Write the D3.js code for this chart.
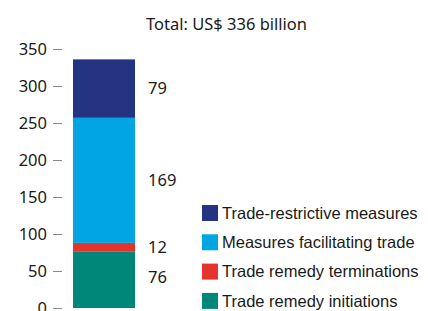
<!DOCTYPE html>
<html>
<head>
<meta charset="utf-8">
<script src="https://cdn.jsdelivr.net/npm/d3@7"></script>
<style>
  body { margin: 0; background: #fff; }
  text { font-family: "Noto Sans", "Open Sans", sans-serif; fill: #1a1a1a; }
  .legend text { font-family: "Liberation Sans", Arial, sans-serif; }
</style>
</head>
<body>
<svg id="chart"></svg>
<script>
// stacking order, bottom to top
const series = ["Trade remedy initiations", "Trade remedy terminations", "Measures facilitating trade", "Trade-restrictive measures"];
const values = [76, 12, 169, 79];
const colors = ["#00877a", "#e4342b", "#00a5e2", "#253482"];
const yTicks = [0, 50, 100, 150, 200, 250, 300, 350];
const title = "Total: US$ 336 billion";

const width = 428, height = 311;

const svg = d3.select("#chart")
    .attr("width", width)
    .attr("height", height);

const y = d3.scaleLinear()
    .domain([0, 350])
    .range([308, 49]);

const x = d3.scaleBand()
    .domain(["total"])
    .range([73, 135])
    .padding(0);

// cumulative stacking
let acc = 0;
const stacked = values.map((v, i) => {
    const d = { key: series[i], value: v, y0: acc, y1: acc + v, color: colors[i] };
    acc += v;
    return d;
});

// axis: short grey ticks, no domain line
const axis = svg.append("g")
    .attr("transform", "translate(62,0)")
    .call(d3.axisLeft(y).tickValues(yTicks).tickSize(9).tickPadding(6));
axis.select(".domain").remove();
axis.selectAll(".tick line").attr("stroke", "#888").attr("stroke-width", 1);
axis.selectAll(".tick text")
    .attr("fill", "#1a1a1a")
    .style("font-family", "'Noto Sans', sans-serif")
    .style("font-size", "16.5px");

svg.append("g")
    .selectAll("rect")
    .data(stacked)
    .enter()
    .append("rect")
    .attr("x", x("total"))
    .attr("width", x.bandwidth())
    .attr("y", d => y(d.y1))
    .attr("height", d => y(d.y0) - y(d.y1))
    .attr("fill", d => d.color);

// value labels next to the bar
svg.append("g")
    .selectAll("text")
    .data(stacked)
    .enter()
    .append("text")
    .attr("x", 148)
    .attr("y", d => y((d.y0 + d.y1) / 2) - (d.y0 === 0 ? 3 : 0))
    .attr("dy", "0.35em")
    .style("font-size", "16.5px")
    .text(d => d.value);

svg.append("text")
    .attr("x", 146)
    .attr("y", 24)
    .attr("dy", "0.35em")
    .style("font-size", "16.5px")
    .text(title);

// legend, top entry is the top of the stack
const legendData = stacked.slice().reverse();
const legend = svg.append("g").attr("class", "legend")
    .selectAll("g")
    .data(legendData)
    .enter()
    .append("g")
    .attr("transform", (d, i) => `translate(202,${213 + i * 29.3})`);

legend.append("rect")
    .attr("x", 0)
    .attr("y", -8)
    .attr("width", 16)
    .attr("height", 16)
    .attr("fill", d => d.color);

legend.append("text")
    .attr("x", 20)
    .attr("y", 0)
    .attr("dy", "0.35em")
    .style("font-size", "16.5px")
    .text(d => d.key);
</script>
</body>
</html>
